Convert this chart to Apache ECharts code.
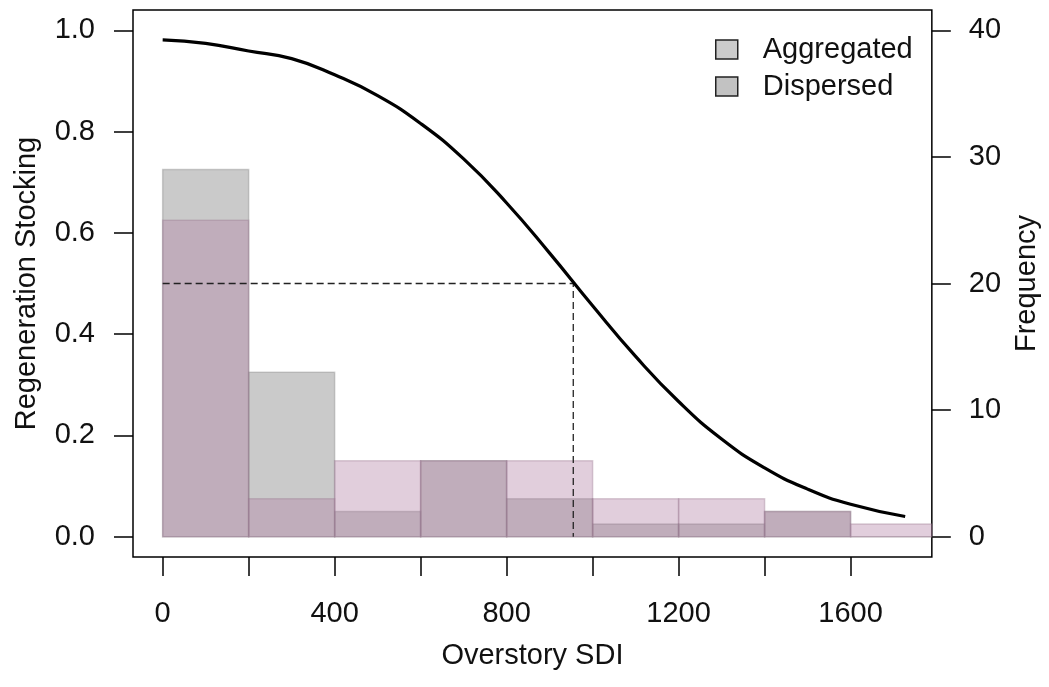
<!DOCTYPE html>
<html lang="en">
<head>
    <meta charset="UTF-8">
    <title>Regeneration stocking vs overstory SDI</title>
    <style>
        html, body { margin: 0; padding: 0; background: #fff; }
        #chart { width: 1049px; height: 687px; }
    </style>
    <script src="https://cdn.jsdelivr.net/npm/echarts@6/dist/echarts.min.js"></script>
</head>
<body>
    <div id="chart"></div>
    <script>
        // histogram bins (Overstory SDI) and counts per group
        const binEdges = [0, 200, 400, 600, 800, 1000, 1200, 1400, 1600, 1800];
        const aggregated = [29, 13, 2, 6, 3, 1, 1, 2, 0];
        const dispersed = [25, 3, 6, 6, 6, 3, 3, 2, 1];

        // fitted stocking curve
        const curveX = [0, 100, 200, 300, 400, 500, 600, 700, 800, 900, 1000, 1100, 1200, 1300, 1400, 1500, 1600, 1727];
        const curveY = [0.981, 0.974, 0.959, 0.944, 0.912, 0.871, 0.816, 0.746, 0.659, 0.560, 0.456, 0.356, 0.267, 0.193, 0.136, 0.094, 0.064, 0.040];

        // 50% stocking reference
        const refSDI = 955;
        const refStock = 0.5;

        // axis ticks
        const xTicks = [0, 200, 400, 600, 800, 1000, 1200, 1400, 1600];
        const xLabels = [0, 400, 800, 1200, 1600];
        const leftTicks = [0, 0.2, 0.4, 0.6, 0.8, 1.0];
        const rightTicks = [0, 10, 20, 30, 40];

        const FONT = '"Liberation Sans", Arial, sans-serif';
        const FS = 29;

        function histData(counts) {
            return counts.map((c, i) => [binEdges[i], binEdges[i + 1], c]);
        }

        function histRender(fill, stroke) {
            return function (params, api) {
                const p0 = api.coord([api.value(0), api.value(2)]);
                const p1 = api.coord([api.value(1), 0]);
                const shape = echarts.graphic.clipRectByRect(
                    { x: p0[0], y: p0[1], width: p1[0] - p0[0], height: p1[1] - p0[1] },
                    params.coordSys
                );
                if (!shape) return;
                return {
                    type: 'rect',
                    shape: shape,
                    style: { fill: fill, stroke: stroke, lineWidth: 1.5 }
                };
            };
        }

        const chart = echarts.init(document.getElementById('chart'));

        const tickStyle = { color: '#000', width: 1.5 };

        chart.setOption({
            animation: false,
            textStyle: { fontFamily: FONT },
            grid: {
                left: 133, right: 114, top: 10, bottom: 130,
                show: true, borderColor: '#000', borderWidth: 1.5,
                backgroundColor: 'transparent'
            },
            legend: {
                orient: 'vertical',
                left: 710, top: 30,
                itemWidth: 22, itemHeight: 19,
                itemGap: 8,
                icon: 'rect',
                textStyle: { fontSize: FS, color: '#111', fontFamily: FONT, padding: [0, 0, 0, 20] },
                data: [
                    { name: 'Aggregated', itemStyle: { color: '#cbcbcb', borderColor: '#222', borderWidth: 1.5 } },
                    { name: 'Dispersed', itemStyle: { color: '#c2c2c2', borderColor: '#222', borderWidth: 1.5 } }
                ]
            },
            xAxis: {
                type: 'value',
                min: -69, max: 1789,
                name: 'Overstory SDI',
                nameLocation: 'middle',
                nameGap: 84,
                nameTextStyle: { fontSize: FS, color: '#111' },
                axisLine: { show: false, onZero: false },
                axisTick: { show: true, length: 19, lineStyle: tickStyle, customValues: xTicks },
                axisLabel: { fontSize: FS, color: '#111', margin: 42, customValues: xLabels,
                    formatter: v => String(v) },
                splitLine: { show: false }
            },
            yAxis: [
                {
                    type: 'value',
                    min: -0.04, max: 1.04,
                    name: 'Regeneration Stocking',
                    nameLocation: 'middle',
                    nameRotate: 90,
                    nameGap: 92,
                    nameTextStyle: { fontSize: FS, color: '#111' },
                    axisLine: { show: false, onZero: false },
                    axisTick: { show: true, length: 19, lineStyle: tickStyle, customValues: leftTicks },
                    axisLabel: { fontSize: FS, color: '#111', margin: 38, customValues: leftTicks,
                        formatter: v => v.toFixed(1) },
                    splitLine: { show: false }
                },
                {
                    type: 'value',
                    position: 'right',
                    min: -1.6, max: 41.6,
                    name: 'Frequency',
                    nameLocation: 'middle',
                    nameRotate: 90,
                    nameGap: 78,
                    nameTextStyle: { fontSize: FS, color: '#111' },
                    axisLine: { show: false, onZero: false },
                    axisTick: { show: true, length: 19, lineStyle: tickStyle, customValues: rightTicks },
                    axisLabel: { fontSize: FS, color: '#111', margin: 37, customValues: rightTicks },
                    splitLine: { show: false }
                }
            ],
            series: [
                {
                    name: 'Aggregated',
                    type: 'custom',
                    yAxisIndex: 1,
                    z: 1,
                    itemStyle: { color: '#cbcbcb' },
                    renderItem: histRender('rgba(128,128,128,0.42)', 'rgba(120,120,120,0.35)'),
                    encode: { x: [0, 1], y: 2 },
                    data: histData(aggregated)
                },
                {
                    name: 'Dispersed',
                    type: 'custom',
                    yAxisIndex: 1,
                    z: 2,
                    itemStyle: { color: '#c2c2c2' },
                    renderItem: histRender('rgba(176,126,162,0.38)', 'rgba(150,115,140,0.35)'),
                    encode: { x: [0, 1], y: 2 },
                    data: histData(dispersed)
                },
                {
                    type: 'line',
                    z: 5,
                    symbol: 'none',
                    silent: true,
                    lineStyle: { color: '#222', width: 1.3, type: [7, 4] },
                    data: [[0, refStock], [refSDI, refStock], [refSDI, 0]]
                },
                {
                    type: 'line',
                    z: 6,
                    symbol: 'none',
                    smooth: 0.5,
                    silent: true,
                    lineStyle: { color: '#000', width: 3.2 },
                    data: curveX.map((x, i) => [x, curveY[i]])
                }
            ]
        });
    </script>
</body>
</html>
